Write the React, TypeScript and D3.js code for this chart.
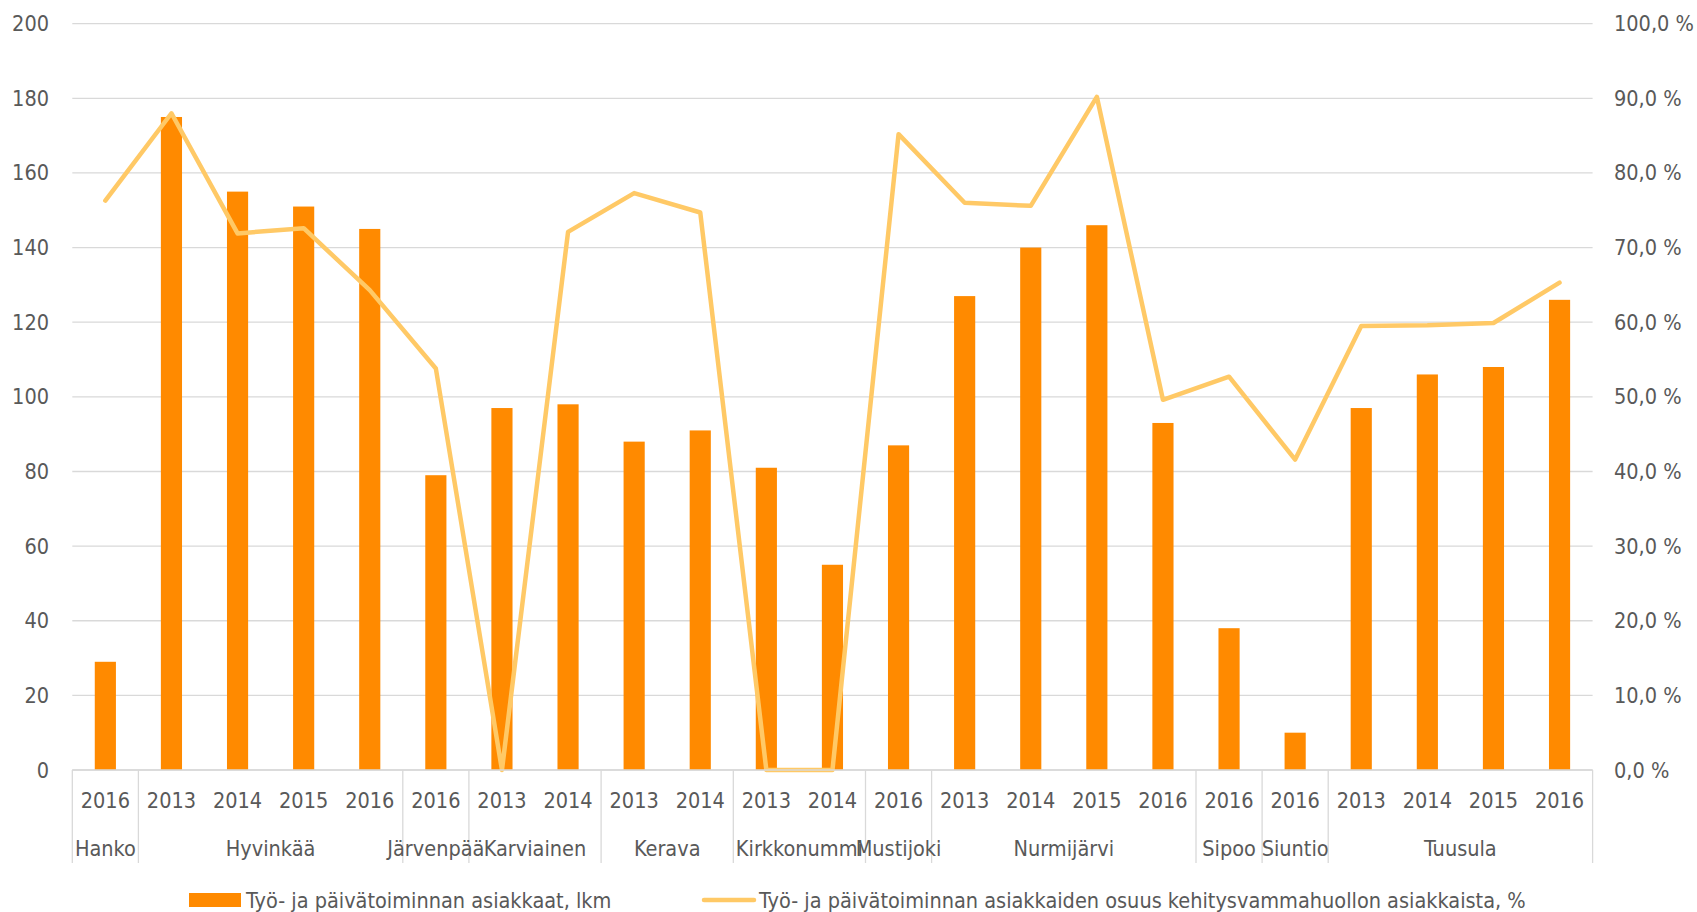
import React from "react";
import * as d3 from "d3";

const municipalities = [
  "Hanko",
  "Hyvinkää", "Hyvinkää", "Hyvinkää", "Hyvinkää",
  "Järvenpää",
  "Karviainen", "Karviainen",
  "Kerava", "Kerava",
  "Kirkkonummi", "Kirkkonummi",
  "Mustijoki",
  "Nurmijärvi", "Nurmijärvi", "Nurmijärvi", "Nurmijärvi",
  "Sipoo",
  "Siuntio",
  "Tuusula", "Tuusula", "Tuusula", "Tuusula",
];
const years = [
  "2016",
  "2013", "2014", "2015", "2016",
  "2016",
  "2013", "2014",
  "2013", "2014",
  "2013", "2014",
  "2016",
  "2013", "2014", "2015", "2016",
  "2016",
  "2016",
  "2013", "2014", "2015", "2016",
];
const clients = [29, 175, 155, 151, 145, 79, 97, 98, 88, 91, 81, 55, 87, 127, 140, 146, 93, 38, 10, 97, 106, 108, 126];
const sharePct = [76.3, 88.0, 71.9, 72.6, 64.3, 53.8, 0, 72.1, 77.3, 74.7, 0, 0, 85.2, 76.0, 75.6, 90.2, 49.6, 52.7, 41.6, 59.5, 59.6, 59.9, 65.3];
const leftTicks = [0, 20, 40, 60, 80, 100, 120, 140, 160, 180, 200];
const rightTicks = [0, 10, 20, 30, 40, 50, 60, 70, 80, 90, 100];
const barLabel = "Työ- ja päivätoiminnan asiakkaat, lkm";
const lineLabel = "Työ- ja päivätoiminnan asiakkaiden osuus kehitysvammahuollon asiakkaista, %";

const W = 1697, H = 912;
const left = 72.3, right = 1592.6, top = 23.7, bottom = 770;
const textColor = "#595959";
const gridColor = "#d9d9d9";
const barColor = "#FF8A00";
const lineColor = "#FFC966";
const font = "'DejaVu Sans Condensed', sans-serif";
const fs = 21.5;

export default function App() {
  const idx = d3.range(clients.length);
  const x = d3.scaleBand<number>().domain(idx).range([left, right]).paddingInner(0.68).paddingOuter(0.34);
  const y = d3.scaleLinear().domain([0, 200]).range([bottom, top]);
  const y2 = d3.scaleLinear().domain([0, 100]).range([bottom, top]);
  const step = x.step();
  const cx = (i: number) => (x(i) as number) + x.bandwidth() / 2;
  const line = d3.line<number>().x((d, i) => cx(i)).y((d) => y2(d));

  const groups: { name: string; start: number; end: number }[] = [];
  municipalities.forEach((m, i) => {
    const g = groups[groups.length - 1];
    if (g && g.name === m) g.end = i;
    else groups.push({ name: m, start: i, end: i });
  });
  const fmt = (v: number) => v.toFixed(1).replace(".", ",") + " %";

  return (
    <svg width={W} height={H} style={{ position: "absolute", left: 0, top: 0, background: "#fff" }}>
      {leftTicks.map((t) => (
        <line key={"g" + t} x1={left} x2={right} y1={y(t)} y2={y(t)} stroke={gridColor} strokeWidth={1.3} />
      ))}
      {leftTicks.map((t) => (
        <text key={"l" + t} x={49} y={y(t)} dy="0.35em" textAnchor="end" fontFamily={font} fontSize={fs} fill={textColor}>
          {t}
        </text>
      ))}
      {rightTicks.map((t) => (
        <text key={"r" + t} x={1614} y={y2(t)} dy="0.35em" textAnchor="start" fontFamily={font} fontSize={fs} fill={textColor}>
          {fmt(t)}
        </text>
      ))}
      {clients.map((v, i) => (
        <rect key={"b" + i} x={x(i)} y={y(v)} width={x.bandwidth()} height={bottom - y(v)} fill={barColor} />
      ))}
      <path d={line(sharePct) || ""} fill="none" stroke={lineColor} strokeWidth={4.5} strokeLinejoin="round" strokeLinecap="round" />
      <line x1={left} x2={right} y1={bottom} y2={bottom} stroke={gridColor} strokeWidth={1.3} />
      {[...groups.map((g) => g.start), clients.length].map((i) => {
        const xx = left + i * step;
        return <line key={"s" + i} x1={xx} x2={xx} y1={bottom} y2={863} stroke={gridColor} strokeWidth={1.3} />;
      })}
      {years.map((yr, i) => (
        <text key={"y" + i} x={cx(i)} y={808} textAnchor="middle" fontFamily={font} fontSize={fs} fill={textColor}>
          {yr}
        </text>
      ))}
      {groups.map((g) => (
        <text key={"n" + g.name} x={(cx(g.start) + cx(g.end)) / 2} y={856} textAnchor="middle" fontFamily={font} fontSize={fs} fill={textColor}>
          {g.name}
        </text>
      ))}
      <rect x={189} y={893} width={52} height={14} fill={barColor} />
      <text x={246} y={908} fontFamily={font} fontSize={fs} fill={textColor}>{barLabel}</text>
      <line x1={704} x2={754} y1={900} y2={900} stroke={lineColor} strokeWidth={4.5} strokeLinecap="round" />
      <text x={759} y={908} fontFamily={font} fontSize={fs} fill={textColor}>{lineLabel}</text>
    </svg>
  );
}
